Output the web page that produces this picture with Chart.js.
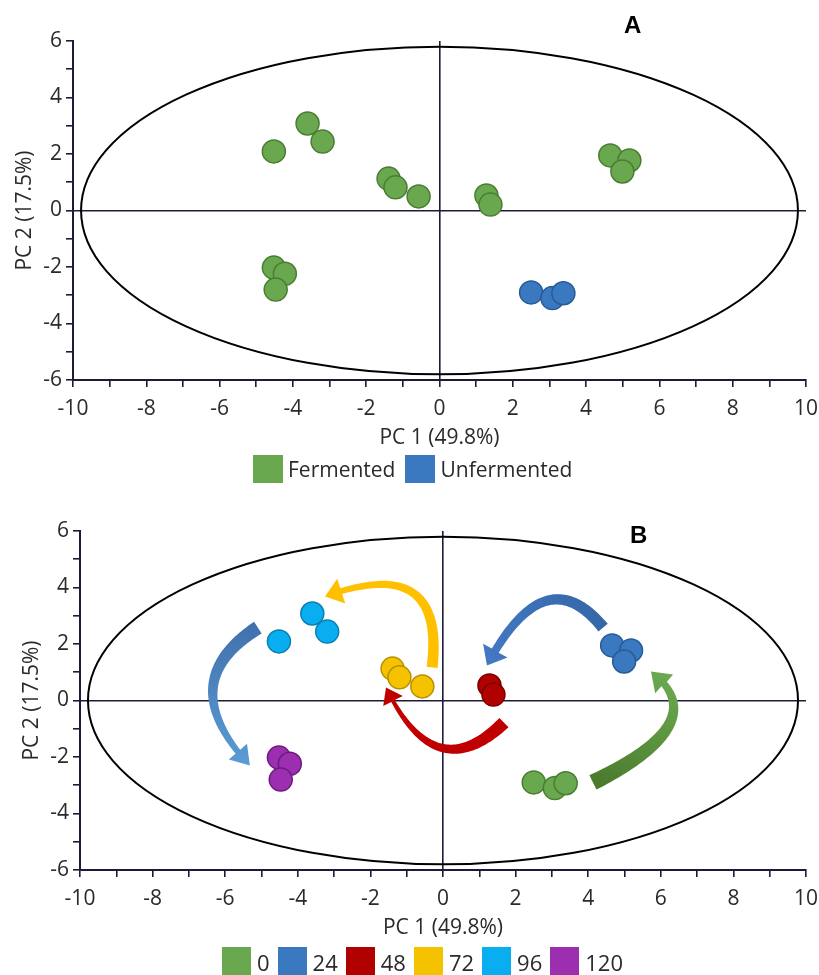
<!DOCTYPE html>
<html>
<head>
<meta charset="utf-8">
<script src="https://cdn.jsdelivr.net/npm/chart.js@4.4.1/dist/chart.umd.min.js"></script>
<style>
  body { margin: 0; background: #fff; width: 819px; height: 975px; position: relative; overflow: hidden;
         font-family: "Open Sans", sans-serif; color: #2a2a2a; }
  .painel { position: absolute; left: 0; width: 819px; height: 490px; }
  #painelA { top: 0; }
  #painelB { top: 490px; }
  .letra { position: absolute; font-family: "Liberation Sans", Arial, sans-serif; font-weight: bold; font-size: 24px; color: #000; }
  .legenda { position: absolute; display: flex; align-items: center; white-space: nowrap; }
  .legenda .caixa { display: inline-block; }
</style>
</head>
<body>
<div class="painel" id="painelA"><canvas id="graficoA"></canvas></div>
<div class="painel" id="painelB"><canvas id="graficoB"></canvas></div>
<div class="letra" style="left:624px; top:11px;">A</div>
<div class="letra" style="left:630px; top:521px;">B</div>
<div class="legenda" id="legendaA" style="left:253px; top:455px; font-size:21px;"></div>
<div class="legenda" id="legendaB" style="left:222px; top:947px; font-size:22px;"></div>
<script>
// escores da PCA por tempo de fermentação (h)
const tempos = ['0', '24', '48', '72', '96', '120'];
const pc1_0 = [2.50, 3.08, 3.38];
const pc2_0 = [-2.90, -3.10, -2.93];
const pc1_24 = [4.66, 5.18, 4.99];
const pc2_24 = [1.95, 1.77, 1.38];
const pc1_48 = [1.28, 1.39];
const pc2_48 = [0.53, 0.21];
const pc1_72 = [-1.39, -1.20, -0.57];
const pc2_72 = [1.13, 0.82, 0.50];
const pc1_96 = [-4.52, -3.60, -3.19];
const pc2_96 = [2.09, 3.08, 2.44];
const pc1_120 = [-4.52, -4.22, -4.47];
const pc2_120 = [-2.02, -2.24, -2.80];

// elipse de Hotelling: centro x, centro y, semi-eixo x, semi-eixo y
const elipse = [0, 0, 9.78, 5.8];

// setas do painel B (de, meio, para) em unidades de PC
const setaDe = [[4.13, -2.90], [4.41, 2.58], [1.68, -0.78], [-0.30, 1.17], [-5.10, 2.58]];
const setaMeio = [[6.23, -0.85], [2.81, 3.51], [-0.08, -1.66], [-0.85, 3.83], [-6.34, 0.39]];
const setaPara = [[5.73, 1.03], [1.21, 1.24], [-1.57, 0.46], [-3.25, 3.68], [-5.32, -2.30]];

const corLegenda = ['#6aa84f', '#3a78bf', '#b00000', '#f5c200', '#08aef0', '#9b2fb0'];
const corBorda = ['#4a7d33', '#275b99', '#7c0000', '#b88f00', '#0a7fb0', '#6c1a80'];
const corSeta = [['#4a7a2c', '#6aa84f'], ['#3568a8', '#4478c4'], ['#c00000', '#c00000'],
                 ['#ffc000', '#ffc000'], ['#4272ad', '#5b9bd5']];
const estiloSeta = [[16, 7, 26, 18], [12, 8, 28, 17], [13, 4, 22, 15], [11, 6, 26, 17], [14, 6, 24, 18]];

const fonte = { family: '"Open Sans", sans-serif', size: 21 };
const corEixo = '#1c1c3a';
const corTexto = '#2a2a2a';

function pontos(xs, ys) {
  return xs.map((x, i) => ({ x: x, y: ys[i] }));
}

const grupos = [
  pontos(pc1_0, pc2_0), pontos(pc1_24, pc2_24), pontos(pc1_48, pc2_48),
  pontos(pc1_72, pc2_72), pontos(pc1_96, pc2_96), pontos(pc1_120, pc2_120)
];

function eixos(larguraY, recuoTitulo) {
  const grade = {
    color: c => (c.tick && c.tick.value === 0) ? corEixo : 'rgba(0,0,0,0)',
    lineWidth: 1.6,
    tickColor: corEixo,
    tickLength: 7,
    tickWidth: 1.6
  };
  return {
    x: {
      type: 'linear', min: -10, max: 10,
      ticks: { stepSize: 1, autoSkip: false, maxRotation: 0, color: corTexto, font: fonte, padding: 9,
               callback: v => (v % 2 === 0 ? v : '') },
      grid: grade,
      border: { color: corEixo, width: 2 },
      title: { display: true, text: 'PC 1 (49.8%)', color: corTexto, font: fonte, padding: { top: 0, bottom: 0 } },
      afterFit: s => { s.height = 71; s.paddingLeft = 0; s.paddingRight = 0; }
    },
    y: {
      type: 'linear', min: -6, max: 6,
      ticks: { stepSize: 1, autoSkip: false, color: corTexto, font: fonte, padding: 4,
               callback: v => (v % 2 === 0 ? v : '') },
      grid: grade,
      border: { color: corEixo, width: 2 },
      title: { display: true, text: 'PC 2 (17.5%)', color: corTexto, font: fonte, padding: { top: recuoTitulo, bottom: 0 } },
      afterFit: s => { s.width = larguraY; }
    }
  };
}

// LEGENDA (HTML)
function montarLegenda(id, nomes, cores, caixa, gapTexto, gapItem) {
  const div = document.getElementById(id);
  nomes.forEach((nome, i) => {
    const c = document.createElement('span');
    c.className = 'caixa';
    c.style.width = caixa[0] + 'px';
    c.style.height = caixa[1] + 'px';
    c.style.background = cores[i];
    c.style.marginRight = gapTexto + 'px';
    const t = document.createElement('span');
    t.innerText = nome;
    t.style.marginRight = gapItem + 'px';
    div.appendChild(c);
    div.appendChild(t);
  });
}

// ELIPSE
const pluginElipse = {
  id: 'elipse',
  beforeDatasetsDraw(chart) {
    const { ctx, scales: { x, y } } = chart;
    const cx = x.getPixelForValue(elipse[0]);
    const cy = y.getPixelForValue(elipse[1]);
    const rx = x.getPixelForValue(elipse[0] + elipse[2]) - cx;
    const ry = cy - y.getPixelForValue(elipse[1] + elipse[3]);
    ctx.save();
    ctx.beginPath();
    ctx.ellipse(cx, cy, rx, ry, 0, 0, Math.PI * 2);
    ctx.strokeStyle = '#000';
    ctx.lineWidth = 2;
    ctx.stroke();
    ctx.restore();
  }
};

// SETAS CURVAS
function desenharSeta(ctx, x, y, k) {
  const S = [x.getPixelForValue(setaDe[k][0]), y.getPixelForValue(setaDe[k][1])];
  const M = [x.getPixelForValue(setaMeio[k][0]), y.getPixelForValue(setaMeio[k][1])];
  const T = [x.getPixelForValue(setaPara[k][0]), y.getPixelForValue(setaPara[k][1])];
  const C = [2 * M[0] - (S[0] + T[0]) / 2, 2 * M[1] - (S[1] + T[1]) / 2];
  const [wCauda, wPescoco, wCabeca, compCabeca] = estiloSeta[k];

  const bez = t => [
    (1 - t) * (1 - t) * S[0] + 2 * t * (1 - t) * C[0] + t * t * T[0],
    (1 - t) * (1 - t) * S[1] + 2 * t * (1 - t) * C[1] + t * t * T[1]
  ];
  const der = t => [
    2 * (1 - t) * (C[0] - S[0]) + 2 * t * (T[0] - C[0]),
    2 * (1 - t) * (C[1] - S[1]) + 2 * t * (T[1] - C[1])
  ];

  let tFim = 1;
  while (tFim > 0) {
    const p = bez(tFim);
    if (Math.hypot(p[0] - T[0], p[1] - T[1]) >= compCabeca) break;
    tFim -= 0.002;
  }

  const esq = [], dir = [];
  const n = 60;
  for (let i = 0; i <= n; i++) {
    const t = tFim * i / n;
    const p = bez(t);
    const d = der(t);
    const len = Math.hypot(d[0], d[1]) || 1;
    const nx = -d[1] / len, ny = d[0] / len;
    const w = (wCauda + (wPescoco - wCauda) * i / n) / 2;
    esq.push([p[0] + nx * w, p[1] + ny * w]);
    dir.push([p[0] - nx * w, p[1] - ny * w]);
  }

  const base = bez(tFim);
  const dx = T[0] - base[0], dy = T[1] - base[1];
  const dl = Math.hypot(dx, dy) || 1;
  const hx = -dy / dl, hy = dx / dl;

  ctx.beginPath();
  ctx.moveTo(esq[0][0], esq[0][1]);
  esq.forEach(p => ctx.lineTo(p[0], p[1]));
  ctx.lineTo(base[0] + hx * wCabeca / 2, base[1] + hy * wCabeca / 2);
  ctx.lineTo(T[0], T[1]);
  ctx.lineTo(base[0] - hx * wCabeca / 2, base[1] - hy * wCabeca / 2);
  for (let i = dir.length - 1; i >= 0; i--) ctx.lineTo(dir[i][0], dir[i][1]);
  ctx.closePath();

  const grad = ctx.createLinearGradient(S[0], S[1], T[0], T[1]);
  grad.addColorStop(0, corSeta[k][0]);
  grad.addColorStop(1, corSeta[k][1]);
  ctx.fillStyle = grad;
  ctx.fill();
}

const pluginSetas = {
  id: 'setas',
  beforeDatasetsDraw(chart) {
    const { ctx, scales: { x, y } } = chart;
    ctx.save();
    for (let k = 0; k < setaDe.length; k++) desenharSeta(ctx, x, y, k);
    ctx.restore();
  }
};

function serie(label, dados, i) {
  return {
    label: label, data: dados,
    backgroundColor: corLegenda[i], borderColor: corBorda[i],
    borderWidth: 1.5, pointRadius: 11.5, pointHoverRadius: 11.5
  };
}

function opcoes(larguraY, recuoTitulo, direita) {
  return {
    responsive: true, maintainAspectRatio: false, animation: false, events: [],
    layout: { padding: { top: 41, right: direita, left: 0, bottom: 39 } },
    scales: eixos(larguraY, recuoTitulo),
    plugins: { legend: { display: false }, tooltip: { enabled: false } }
  };
}

// 📈 GRÁFICO A
const fermentado = [].concat(grupos[1], grupos[2], grupos[3], grupos[4], grupos[5]);
new Chart(document.getElementById('graficoA'), {
  type: 'scatter',
  data: {
    datasets: [
      serie('Fermented', fermentado, 0),
      serie('Unfermented', grupos[0], 1)
    ]
  },
  options: opcoes(73, 12, 12),
  plugins: [pluginElipse]
});
montarLegenda('legendaA', ['Fermented', 'Unfermented'], [corLegenda[0], corLegenda[1]], [30, 28], 5, 10);

// 📊 GRÁFICO B
new Chart(document.getElementById('graficoB'), {
  type: 'scatter',
  data: {
    datasets: tempos.map((t, i) => serie(t, grupos[i], i))
  },
  options: opcoes(80, 19, 13),
  plugins: [pluginElipse, pluginSetas]
});
montarLegenda('legendaB', tempos, corLegenda, [29, 30], 6, 8);
</script>
</body>
</html>
